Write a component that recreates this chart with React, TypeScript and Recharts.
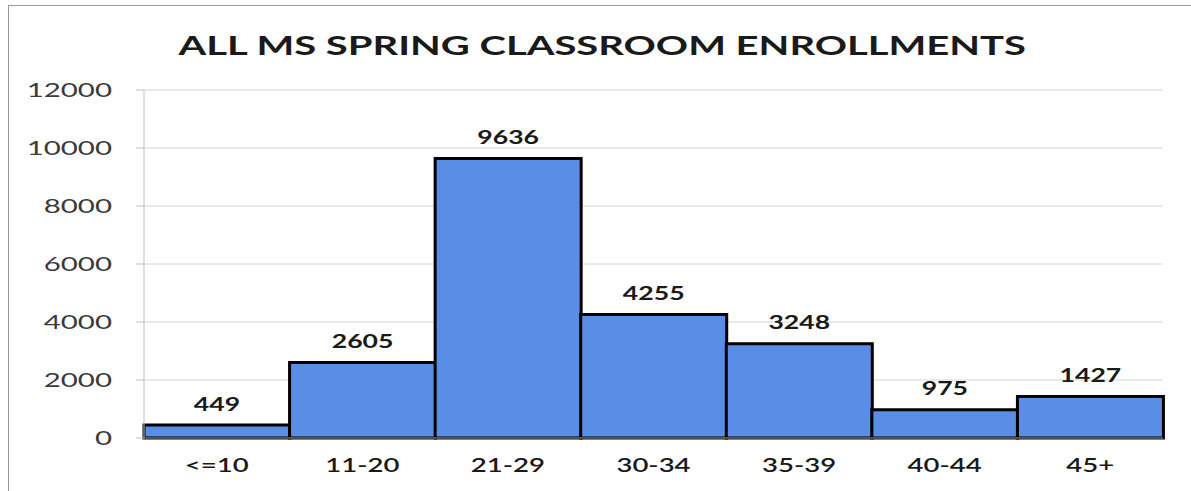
import { Bar, BarChart, CartesianGrid, LabelList, XAxis, YAxis } from "recharts";

const categories = ["<=10", "11-20", "21-29", "30-34", "35-39", "40-44", "45+"];
const enrollments = [449, 2605, 9636, 4255, 3248, 975, 1427];
const yTicks = [0, 2000, 4000, 6000, 8000, 10000, 12000];

const data = categories.map((range, i) => ({ range, count: enrollments[i] }));

const FONT = "Lato, 'Open Sans', sans-serif";
const STRETCH = 1.45;

function YTick(props: any) {
  const { x, y, payload } = props;
  return (
    <text
      transform={`translate(${x},${y}) scale(1.55,1)`}
      textAnchor="end"
      dy="0.35em"
      fontSize={19}
      fontFamily={FONT}
      fill="#3a3a3a"
    >
      {payload.value}
    </text>
  );
}

function XTick(props: any) {
  const { x, y, payload } = props;
  return (
    <text
      transform={`translate(${x},${y + 19}) scale(${STRETCH},1)`}
      textAnchor="middle"
      dy="0.35em"
      fontSize={19}
      fontWeight={600}
      fontFamily={FONT}
      fill="#1a1a1a"
    >
      {payload.value}
    </text>
  );
}

function ValueLabel(props: any) {
  const { x, y, width, value } = props;
  return (
    <text
      transform={`translate(${x + width / 2},${y - 21}) scale(1.4,1)`}
      textAnchor="middle"
      dy="0.35em"
      fontSize={19}
      fontWeight={700}
      fontFamily={FONT}
      fill="#1a1a1a"
    >
      {value}
    </text>
  );
}

export default function App() {
  return (
    <div
      style={{
        position: "absolute",
        left: 0,
        top: 0,
        width: 1191,
        height: 491,
        background: "#fff",
        overflow: "hidden",
      }}
    >
      <div
        style={{
          position: "absolute",
          left: 8,
          top: 5,
          width: 1200,
          height: 500,
          borderTop: "1px solid #9a9a9a",
          borderLeft: "1px solid #9a9a9a",
        }}
      />
      <div
        style={{
          position: "absolute",
          left: 0,
          top: 27,
          width: 1204,
          textAlign: "center",
          fontFamily: FONT,
          fontWeight: 700,
          fontSize: 27,
          color: "#1a1a1a",
          lineHeight: "36px",
        }}
      >
        <span style={{ display: "inline-block", transform: "scaleX(1.48)" }}>
          ALL MS SPRING CLASSROOM ENROLLMENTS
        </span>
      </div>
      <div style={{ position: "absolute", left: 0, top: 0 }}>
        <BarChart
          width={1191}
          height={491}
          data={data}
          margin={{ top: 90, right: 28, bottom: 23, left: 0 }}
          barCategoryGap={0}
          barGap={0}
        >
          <CartesianGrid vertical={false} stroke="#d4d4d4" />
          <XAxis
            dataKey="range"
            tick={<XTick />}
            tickLine={false}
            axisLine={{ stroke: "#a0a0a0" }}
            interval={0}
          />
          <YAxis
            width={144}
            domain={[0, 12000]}
            ticks={yTicks}
            tick={<YTick />}
            tickSize={8}
            tickMargin={24}
            tickLine={{ stroke: "#c0c0c0" }}
            axisLine={{ stroke: "#c0c0c0" }}
            interval={0}
          />
          <Bar
            dataKey="count"
            fill="#5a8ee6"
            stroke="#000"
            strokeWidth={3}
            isAnimationActive={false}
          >
            <LabelList dataKey="count" content={<ValueLabel />} />
          </Bar>
        </BarChart>
      </div>
    </div>
  );
}
